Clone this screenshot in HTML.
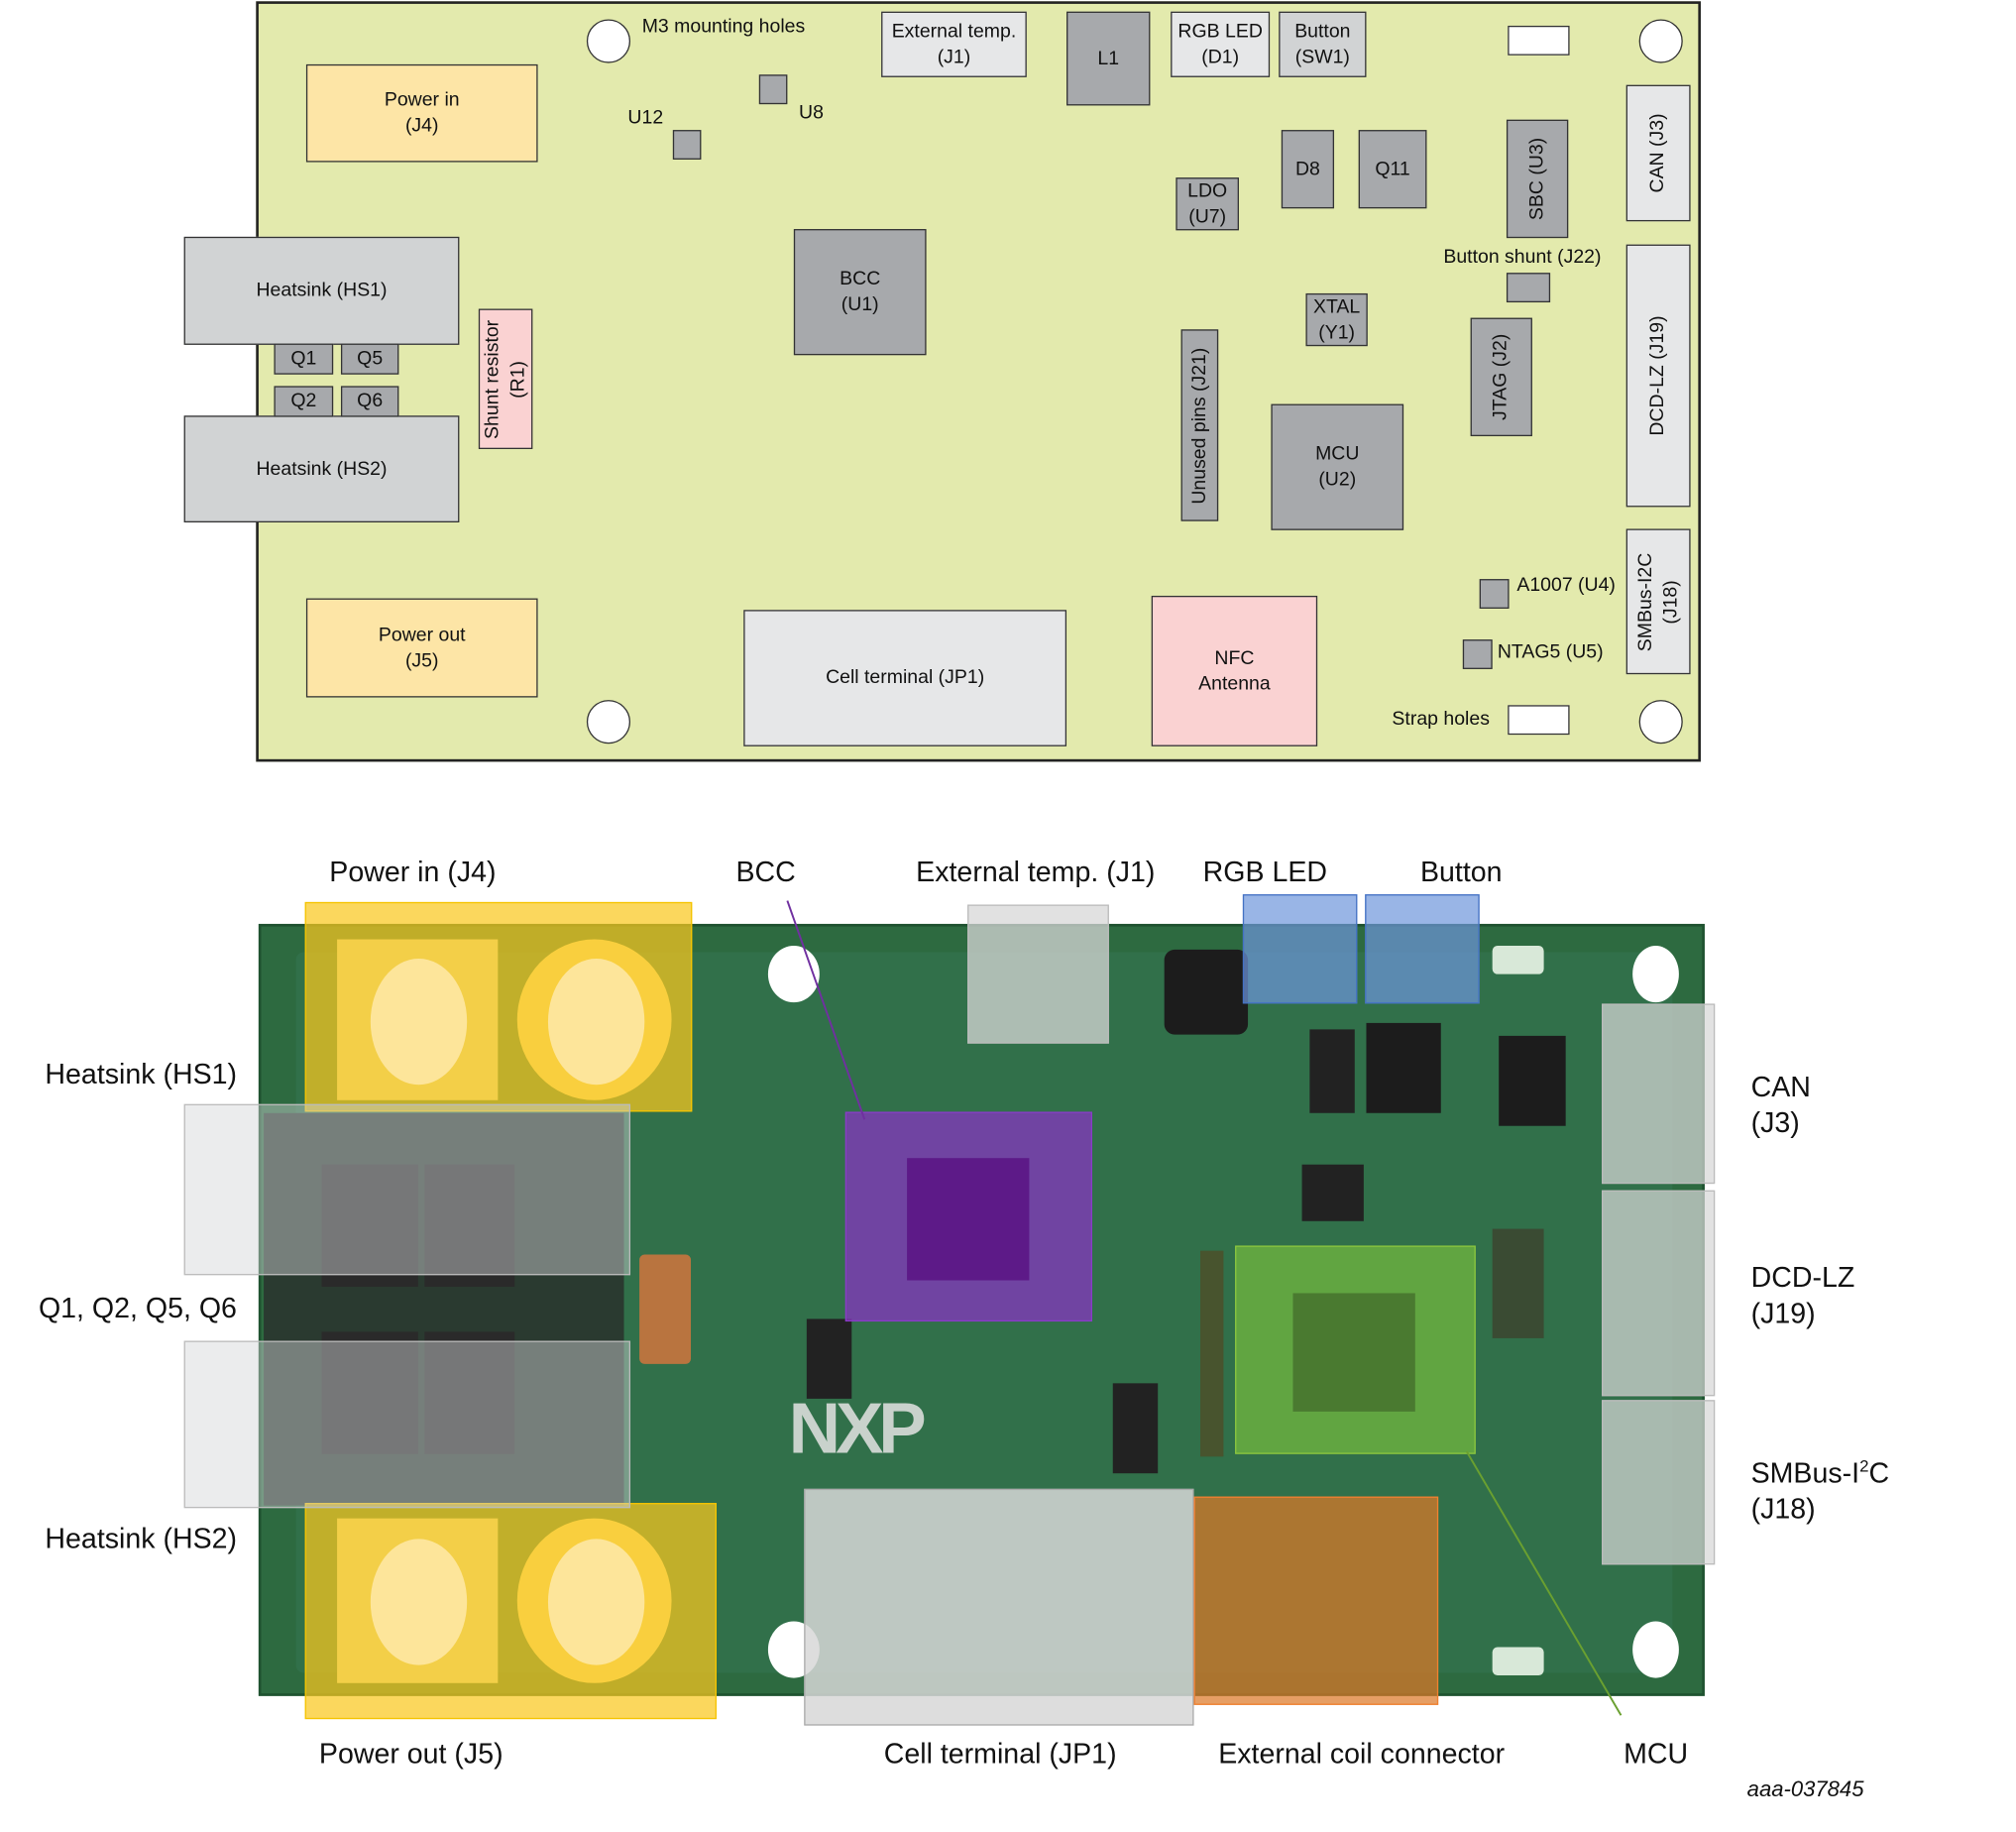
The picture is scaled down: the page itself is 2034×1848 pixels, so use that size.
<!DOCTYPE html>
<html><head><meta charset="utf-8"><style>
html,body{margin:0;padding:0;background:#fff;width:2034px;height:1848px;overflow:hidden}
#w{position:absolute;left:0;top:0;width:1567px;height:1424px;transform:scale(1.298);transform-origin:0 0;font-family:"Liberation Sans",sans-serif}
.b{position:absolute;box-sizing:border-box;border:1.5px solid #333;display:flex;align-items:center;justify-content:center;text-align:center;font-size:15px;line-height:20px;color:#111}
.g{background:#a7a9ac}.l{background:#e6e7e8}.m{background:#d1d3d4}.y{background:#fde5a6}.p{background:#fad2d2}.w{background:#fff}
.r span{transform:rotate(-90deg);white-space:nowrap;display:block}
.t{position:absolute;font-size:15px;color:#111;white-space:nowrap;line-height:18px}
.h{position:absolute;width:34px;height:34px;border-radius:50%;background:#fff;border:1.5px solid #333;box-sizing:border-box}
.L{position:absolute;font-size:22px;color:#111;white-space:nowrap;line-height:28px}
.o{position:absolute;box-sizing:border-box}
.ph{position:absolute;border-radius:50%;background:#fff}
</style></head><body><div id="w">
<div class="o" style="left:199px;top:1px;width:1123px;height:591px;background:#e3eaad;border:2.5px solid #222"></div>
<div class="h" style="left:456px;top:15px"></div><div class="h" style="left:1274px;top:15px"></div>
<div class="h" style="left:456px;top:544px"></div><div class="h" style="left:1274px;top:544px"></div>
<div class="t" style="left:499px;top:12px">M3 mounting holes</div>
<div class="b y" style="left:238px;top:50px;width:180px;height:76px">Power in<br>(J4)</div>
<div class="t" style="left:488px;top:83px">U12</div>
<div class="b g" style="left:523px;top:101px;width:22px;height:23px"></div>
<div class="b g" style="left:590px;top:58px;width:22px;height:23px"></div>
<div class="t" style="left:621px;top:79px">U8</div>
<div class="b l" style="left:685px;top:9px;width:113px;height:51px">External temp.<br>(J1)</div>
<div class="b g" style="left:829px;top:9px;width:65px;height:73px">L1</div>
<div class="b l" style="left:910px;top:9px;width:77px;height:51px">RGB LED<br>(D1)</div>
<div class="b m" style="left:994px;top:9px;width:68px;height:51px">Button<br>(SW1)</div>
<div class="b w" style="left:1172px;top:20px;width:48px;height:23px"></div>
<div class="b l r" style="left:1264px;top:66px;width:50px;height:106px"><span>CAN (J3)</span></div>
<div class="b g" style="left:996px;top:101px;width:41px;height:61px">D8</div>
<div class="b g" style="left:1056px;top:101px;width:53px;height:61px">Q11</div>
<div class="b g" style="left:914px;top:138px;width:49px;height:41px">LDO<br>(U7)</div>
<div class="b g r" style="left:1171px;top:93px;width:48px;height:92px"><span>SBC (U3)</span></div>
<div class="t" style="left:1122px;top:191px">Button shunt (J22)</div>
<div class="b g" style="left:1171px;top:212px;width:34px;height:23px"></div>
<div class="b l r" style="left:1264px;top:190px;width:50px;height:204px"><span>DCD-LZ (J19)</span></div>
<div class="b g" style="left:1015px;top:228px;width:48px;height:41px">XTAL<br>(Y1)</div>
<div class="b g r" style="left:1143px;top:247px;width:48px;height:92px"><span>JTAG (J2)</span></div>
<div class="b g r" style="left:918px;top:256px;width:29px;height:149px"><span>Unused pins (J21)</span></div>
<div class="b g" style="left:988px;top:314px;width:103px;height:98px">MCU<br>(U2)</div>
<div class="b l r" style="left:1264px;top:411px;width:50px;height:113px"><span>SMBus-I2C<br>(J18)</span></div>
<div class="b g" style="left:1150px;top:450px;width:23px;height:23px"></div>
<div class="t" style="left:1179px;top:446px">A1007 (U4)</div>
<div class="b g" style="left:1137px;top:497px;width:23px;height:23px"></div>
<div class="t" style="left:1164px;top:498px">NTAG5 (U5)</div>
<div class="t" style="left:1082px;top:550px">Strap holes</div>
<div class="b w" style="left:1172px;top:548px;width:48px;height:23px"></div>
<div class="b p" style="left:895px;top:463px;width:129px;height:117px">NFC<br>Antenna</div>
<div class="b l" style="left:578px;top:474px;width:251px;height:106px">Cell terminal (JP1)</div>
<div class="b y" style="left:238px;top:465px;width:180px;height:77px">Power out<br>(J5)</div>
<div class="b g" style="left:617px;top:178px;width:103px;height:98px">BCC<br>(U1)</div>
<div class="b m" style="left:143px;top:184px;width:214px;height:84px">Heatsink (HS1)</div>
<div class="b m" style="left:143px;top:323px;width:214px;height:83px">Heatsink (HS2)</div>
<div class="b g" style="left:213px;top:267px;width:46px;height:24px">Q1</div>
<div class="b g" style="left:265px;top:267px;width:45px;height:24px">Q5</div>
<div class="b g" style="left:213px;top:300px;width:46px;height:24px">Q2</div>
<div class="b g" style="left:265px;top:300px;width:45px;height:24px">Q6</div>
<div class="b p r" style="left:372px;top:240px;width:42px;height:109px"><span>Shunt resistor<br>(R1)</span></div>

<div class="o" style="left:201px;top:718px;width:1124px;height:600px;background:#2d6a40;border:2px solid #1f5230"></div>
<div class="o" style="left:230px;top:740px;width:1070px;height:560px;background:#31704a;border-radius:6px"></div>
<div class="ph" style="left:597px;top:735px;width:40px;height:44px"></div>
<div class="ph" style="left:597px;top:1260px;width:40px;height:44px"></div>
<div class="ph" style="left:1269px;top:735px;width:36px;height:44px"></div>
<div class="ph" style="left:1269px;top:1260px;width:36px;height:44px"></div>
<div class="o" style="left:1160px;top:735px;width:40px;height:22px;background:#d8e8d8;border-radius:4px"></div>
<div class="o" style="left:1160px;top:1280px;width:40px;height:22px;background:#d8e8d8;border-radius:4px"></div>
<div class="o" style="left:205px;top:865px;width:280px;height:305px;background:#2a3a30"></div>
<div class="o" style="left:250px;top:905px;width:75px;height:95px;background:#2a2a2a"></div>
<div class="o" style="left:330px;top:905px;width:70px;height:95px;background:#2a2a2a"></div>
<div class="o" style="left:250px;top:1035px;width:75px;height:95px;background:#2a2a2a"></div>
<div class="o" style="left:330px;top:1035px;width:70px;height:95px;background:#2a2a2a"></div>
<div class="o" style="left:497px;top:975px;width:40px;height:85px;background:#b9743f;border-radius:4px"></div>
<div class="o" style="left:905px;top:738px;width:65px;height:66px;background:#1c1c1c;border-radius:8px"></div>
<div class="o" style="left:1062px;top:795px;width:58px;height:70px;background:#1c1c1c"></div>
<div class="o" style="left:1165px;top:805px;width:52px;height:70px;background:#1c1c1c"></div>
<div class="o" style="left:1018px;top:800px;width:35px;height:65px;background:#222"></div>
<div class="o" style="left:627px;top:1025px;width:35px;height:62px;background:#222"></div>
<div class="o" style="left:865px;top:1075px;width:35px;height:70px;background:#222"></div>
<div class="o" style="left:1012px;top:905px;width:48px;height:44px;background:#222"></div>
<div class="o" style="left:1160px;top:955px;width:40px;height:85px;background:#3a4b33"></div>
<div class="o" style="left:933px;top:972px;width:18px;height:160px;background:#48542e"></div>
<div class="o" style="left:613px;top:1080px;font-size:56px;font-weight:bold;color:#c9d2cc;letter-spacing:-4px;line-height:60px">NXP</div>
<div class="o" style="left:237px;top:701px;width:301px;height:163px;background:rgba(250,200,30,.72);border:1.5px solid #f5c400"></div>
<div class="o" style="left:262px;top:730px;width:125px;height:125px;background:rgba(255,215,80,.8)"></div>
<div class="ph" style="left:288px;top:745px;width:75px;height:98px;background:#fde59a"></div>
<div class="ph" style="left:402px;top:730px;width:120px;height:125px;background:#f9cf3e"></div>
<div class="ph" style="left:426px;top:745px;width:75px;height:98px;background:#fde59a"></div>
<div class="o" style="left:237px;top:1168px;width:320px;height:168px;background:rgba(250,200,30,.72);border:1.5px solid #f5c400"></div>
<div class="o" style="left:262px;top:1180px;width:125px;height:128px;background:rgba(255,215,80,.8)"></div>
<div class="ph" style="left:288px;top:1196px;width:75px;height:98px;background:#fde59a"></div>
<div class="ph" style="left:402px;top:1180px;width:120px;height:128px;background:#f9cf3e"></div>
<div class="ph" style="left:426px;top:1196px;width:75px;height:98px;background:#fde59a"></div>
<div class="o" style="left:143px;top:858px;width:347px;height:133px;background:rgba(210,212,214,.45);border:1px solid #bbb"></div>
<div class="o" style="left:143px;top:1042px;width:347px;height:130px;background:rgba(210,212,214,.45);border:1px solid #bbb"></div>
<div class="o" style="left:657px;top:864px;width:192px;height:163px;background:rgba(140,50,200,.7);border:1px solid #8a3cc8"></div>
<div class="o" style="left:705px;top:900px;width:95px;height:95px;background:#5d1a88"></div>
<div class="o" style="left:960px;top:968px;width:187px;height:162px;background:rgba(130,200,60,.6);border:1px solid #8cc63f"></div>
<div class="o" style="left:1005px;top:1005px;width:95px;height:92px;background:#4a7a30"></div>
<div class="o" style="left:752px;top:703px;width:110px;height:108px;background:rgba(215,215,215,.75);border:1px solid #bbb"></div>
<div class="o" style="left:966px;top:695px;width:89px;height:85px;background:rgba(110,150,220,.7);border:1px solid #4472c4"></div>
<div class="o" style="left:1061px;top:695px;width:89px;height:85px;background:rgba(110,150,220,.7);border:1px solid #4472c4"></div>
<div class="o" style="left:1245px;top:780px;width:88px;height:140px;background:rgba(215,215,215,.72);border:1px solid #bbb"></div>
<div class="o" style="left:1245px;top:925px;width:88px;height:160px;background:rgba(215,215,215,.72);border:1px solid #bbb"></div>
<div class="o" style="left:1245px;top:1088px;width:88px;height:128px;background:rgba(215,215,215,.72);border:1px solid #bbb"></div>
<div class="o" style="left:625px;top:1157px;width:303px;height:184px;background:rgba(215,215,215,.85);border:1px solid #aaa"></div>
<div class="o" style="left:928px;top:1163px;width:190px;height:162px;background:rgba(220,120,40,.72);border:1px solid #f08030"></div>
<svg style="position:absolute;left:0;top:0" width="1567" height="1424"><line x1="612" y1="700" x2="672" y2="870" stroke="#7030a0" stroke-width="1.5"/><line x1="1140" y1="1128" x2="1260" y2="1333" stroke="#6aa030" stroke-width="1.5"/></svg>
<div class="L" style="left:256px;top:664px">Power in (J4)</div>
<div class="L" style="left:572px;top:664px">BCC</div>
<div class="L" style="left:712px;top:664px">External temp. (J1)</div>
<div class="L" style="left:935px;top:664px">RGB LED</div>
<div class="L" style="left:1104px;top:664px">Button</div>
<div class="L" style="left:35px;top:821px">Heatsink (HS1)</div>
<div class="L" style="left:30px;top:1003px">Q1, Q2, Q5, Q6</div>
<div class="L" style="left:35px;top:1182px">Heatsink (HS2)</div>
<div class="L" style="left:1361px;top:831px">CAN<br>(J3)</div>
<div class="L" style="left:1361px;top:979px">DCD-LZ<br>(J19)</div>
<div class="L" style="left:1361px;top:1131px">SMBus-I<sup style="font-size:13px;line-height:0">2</sup>C<br>(J18)</div>
<div class="L" style="left:248px;top:1349px">Power out (J5)</div>
<div class="L" style="left:687px;top:1349px">Cell terminal (JP1)</div>
<div class="L" style="left:947px;top:1349px">External coil connector</div>
<div class="L" style="left:1262px;top:1349px">MCU</div>
<div class="L" style="left:1358px;top:1377px;font-size:17px;font-style:italic">aaa-037845</div>
</div></body></html>
